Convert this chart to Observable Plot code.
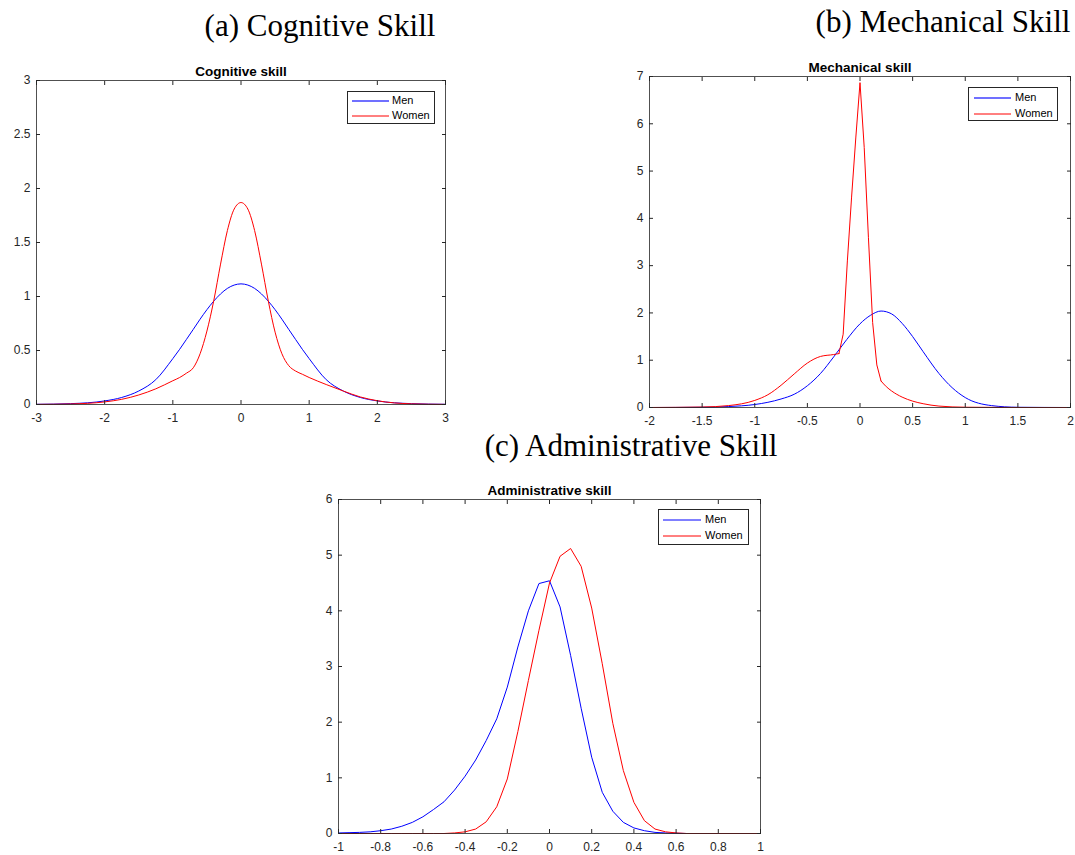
<!DOCTYPE html>
<html>
<head>
<meta charset="utf-8">
<script src="https://cdn.jsdelivr.net/npm/d3@7"></script>
<script src="https://cdn.jsdelivr.net/npm/@observablehq/plot@0.6"></script>
<style>
  body { margin: 0; background: #fff; }
  #page { position: relative; width: 1075px; height: 855px; overflow: hidden; }
  .cap { position: absolute; font-family: "Liberation Serif", serif; font-size: 31px; line-height: 1; color: #000; white-space: nowrap; transform: translateX(-50%); }
  .panel { position: absolute; }
  .legend { position: absolute; box-sizing: border-box; border: 1px solid #262626; background: #fff;
            font-family: "Liberation Sans", Arial, sans-serif; font-size: 11px; color: #000; }
  .legend svg { position: absolute; left: 0; top: 0; overflow: visible; }
  .legend .lb { position: absolute; line-height: 14px; white-space: nowrap; }
</style>
</head>
<body>
<div id="page">
  <div class="cap" style="left:320px; top:10px">(a) Cognitive Skill</div>
  <div class="cap" style="left:943px; top:6px">(b) Mechanical Skill</div>
  <div class="cap" style="left:631px; top:430px">(c) Administrative Skill</div>
  <div class="panel" id="pa" style="left:0px; top:55px"></div>
  <div class="panel" id="pb" style="left:615px; top:50px"></div>
  <div class="panel" id="pc" style="left:300px; top:475px"></div>
</div>
<script>
// series labels and colours
const seriesNames = ["Men", "Women"];
const seriesColors = ["#0000ff", "#ff0000"];

// (a) cognitive skill
const cogX = [-3, -2.5, -2, -1.75, -1.5, -1.25, -1, -0.9, -0.8, -0.7, -0.6, -0.5, -0.4, -0.3, -0.2, -0.1,
              0, 0.1, 0.2, 0.3, 0.4, 0.5, 0.6, 0.7, 0.8, 0.9, 1, 1.25, 1.5, 1.75, 2, 2.5, 3];
const cogMen = [0.002, 0.008, 0.033, 0.065, 0.125, 0.23, 0.425, 0.511, 0.603, 0.696, 0.79, 0.878, 0.957, 1.024, 1.075, 1.106,
                1.117, 1.106, 1.075, 1.024, 0.957, 0.878, 0.79, 0.696, 0.603, 0.511, 0.425, 0.23, 0.125, 0.065, 0.033, 0.008, 0.002];
const cogWomen = [0.001, 0.005, 0.024, 0.048, 0.088, 0.145, 0.22, 0.25, 0.29, 0.34, 0.47, 0.68, 0.96, 1.30, 1.61, 1.81,
                  1.87, 1.81, 1.61, 1.30, 0.96, 0.67, 0.47, 0.36, 0.31, 0.28, 0.25, 0.185, 0.125, 0.07, 0.035, 0.006, 0.001];
const cogXTicks = [-3, -2, -1, 0, 1, 2, 3];
const cogYTicks = [0, 0.5, 1, 1.5, 2, 2.5, 3];

// (b) mechanical skill
const mechMenX = [-2, -1.5, -1.25, -1, -0.875, -0.75, -0.625, -0.5, -0.375, -0.25, -0.125, 0, 0.1, 0.2, 0.3, 0.4,
                  0.5, 0.6, 0.75, 0.875, 1, 1.25, 1.5, 2];
const mechMen = [0, 0.005, 0.02, 0.063, 0.11, 0.18, 0.28, 0.46, 0.72, 1.07, 1.44, 1.77, 1.95, 2.04, 1.98, 1.78,
                 1.50, 1.18, 0.72, 0.42, 0.21, 0.04, 0.005, 0];
const mechWomenX = [-2, -1.5, -1.25, -1, -0.875, -0.75, -0.625, -0.5, -0.375, -0.25, -0.2, -0.16, -0.12, -0.08, -0.04,
                    0, 0.04, 0.08, 0.12, 0.16, 0.2, 0.25, 0.3, 0.4, 0.5, 0.6, 0.75, 1, 1.5, 2];
const mechWomen = [0, 0.01, 0.04, 0.15, 0.27, 0.47, 0.71, 0.94, 1.08, 1.12, 1.14, 1.55, 3.1, 4.45, 5.7,
                   6.87, 5.5, 3.6, 1.8, 0.9, 0.56, 0.44, 0.35, 0.22, 0.135, 0.08, 0.03, 0.006, 0, 0];
const mechSpike = [-0.2, 0.2]; // women's curve is drawn with straight segments inside this range
const mechXTicks = [-2, -1.5, -1, -0.5, 0, 0.5, 1, 1.5, 2];
const mechYTicks = [0, 1, 2, 3, 4, 5, 6, 7];

// (c) administrative skill
const admX = [-1, -0.95, -0.9, -0.85, -0.8, -0.75, -0.7, -0.65, -0.6, -0.55, -0.5, -0.45, -0.4, -0.35, -0.3, -0.25,
              -0.2, -0.15, -0.1, -0.05, 0, 0.05, 0.1, 0.15, 0.2, 0.25, 0.3, 0.35, 0.4, 0.45, 0.5, 0.55, 0.6,
              0.65, 0.7, 0.75, 0.8, 0.85, 0.9, 0.95, 1];
const admMen = [0.01, 0.015, 0.02, 0.03, 0.05, 0.08, 0.13, 0.2, 0.3, 0.43, 0.57, 0.78, 1.03, 1.32, 1.67, 2.06,
                2.63, 3.35, 4.0, 4.49, 4.54, 4.07, 3.2, 2.25, 1.37, 0.74, 0.4, 0.2, 0.1, 0.05, 0.02, 0.01, 0.005,
                0, 0, 0, 0, 0, 0, 0, 0];
const admWomen = [0, 0, 0, 0, 0, 0, 0, 0, 0, 0, 0, 0.01, 0.03, 0.08, 0.21, 0.48,
                  0.98, 1.83, 2.75, 3.65, 4.5, 4.98, 5.12, 4.8, 4.05, 3.05, 1.98, 1.13, 0.56, 0.23, 0.08, 0.03, 0.01,
                  0, 0, 0, 0, 0, 0, 0, 0];
const admXTicks = [-1, -0.8, -0.6, -0.4, -0.2, 0, 0.2, 0.4, 0.6, 0.8, 1];
const admYTicks = [0, 1, 2, 3, 4, 5, 6];

const fmt = d => String(d);
const blank = () => "";

function rows(xs, ys) {
  return xs.map((x, i) => ({x, y: ys[i]}));
}

function seriesMarks(data, color, curve, sharp) {
  if (!sharp) return [Plot.line(data, {x: "x", y: "y", stroke: color, strokeWidth: 1, curve})];
  // smooth tails, straight segments around the spike
  const [a, b] = sharp;
  return [
    Plot.line(data, {filter: d => d.x <= a, x: "x", y: "y", stroke: color, strokeWidth: 1, curve}),
    Plot.line(data, {filter: d => d.x >= a && d.x <= b, x: "x", y: "y", stroke: color, strokeWidth: 1, curve: "linear"}),
    Plot.line(data, {filter: d => d.x >= b, x: "x", y: "y", stroke: color, strokeWidth: 1, curve})
  ];
}

function panel(opts) {
  return Plot.plot({
    width: opts.width,
    height: opts.height,
    marginLeft: opts.ml,
    marginRight: opts.mr,
    marginTop: opts.mt,
    marginBottom: opts.mb,
    x: {domain: opts.xDomain},
    y: {domain: opts.yDomain},
    style: {
      fontFamily: "Liberation Sans, Arial, sans-serif",
      fontSize: "12px",
      color: "#262626",
      background: "transparent",
      overflow: "visible"
    },
    marks: [
      ...seriesMarks(rows(opts.menX, opts.men), seriesColors[0], opts.menCurve),
      ...seriesMarks(rows(opts.womenX, opts.women), seriesColors[1], opts.womenCurve, opts.womenSharp),
      Plot.frame({stroke: "#262626", strokeWidth: 0.8}),
      Plot.axisX({ticks: opts.xTicks, tickSize: -4, tickPadding: 13, tickFormat: fmt, label: null}),
      Plot.axisX({anchor: "top", ticks: opts.xTicks, tickSize: -4, tickFormat: blank, label: null}),
      Plot.axisY({ticks: opts.yTicks, tickSize: -4, tickPadding: 10, tickFormat: fmt, label: null}),
      Plot.axisY({anchor: "right", ticks: opts.yTicks, tickSize: -4, tickFormat: blank, label: null}),
      Plot.text([opts.title], {frameAnchor: "top", lineAnchor: "bottom", dy: -5, fontWeight: "bold", fontSize: 13.5, fill: "#000"})
    ]
  });
}

function legend(parent, box) {
  const lg = document.createElement("div");
  lg.className = "legend";
  lg.style.left = box.left + "px";
  lg.style.top = box.top + "px";
  lg.style.width = box.w + "px";
  lg.style.height = box.h + "px";
  let svg = `<svg width="${box.w}" height="${box.h}">`;
  seriesNames.forEach((name, i) => {
    const sw = i === 0 ? box.menWidth : 1;
    svg += `<line x1="${box.l0}" x2="${box.l1}" y1="${box.rows[i]}" y2="${box.rows[i]}" stroke="${seriesColors[i]}" stroke-width="${sw}" stroke-opacity="${i === 0 && sw > 1 ? 0.75 : 1}"/>`;
  });
  svg += "</svg>";
  lg.innerHTML = svg + seriesNames.map((name, i) =>
    `<div class="lb" style="left:${box.tx}px; top:${box.rows[i] - 8}px">${name}</div>`).join("");
  parent.appendChild(lg);
}

const page = document.getElementById("page");

document.getElementById("pa").append(panel({
  width: 460, height: 370, ml: 36, mr: 15, mt: 25, mb: 21,
  xDomain: [-3, 3], yDomain: [0, 3], xTicks: cogXTicks, yTicks: cogYTicks,
  menX: cogX, men: cogMen, womenX: cogX, women: cogWomen,
  menCurve: "monotone-x", womenCurve: "monotone-x",
  title: "Cognitive skill"
}));

document.getElementById("pb").append(panel({
  width: 460, height: 380, ml: 34, mr: 5, mt: 26, mb: 23,
  xDomain: [-2, 2], yDomain: [0, 7], xTicks: mechXTicks, yTicks: mechYTicks,
  menX: mechMenX, men: mechMen, womenX: mechWomenX, women: mechWomen,
  menCurve: "monotone-x", womenCurve: "monotone-x", womenSharp: mechSpike,
  title: "Mechanical skill"
}));

document.getElementById("pc").append(panel({
  width: 475, height: 380, ml: 38, mr: 15, mt: 24, mb: 22,
  xDomain: [-1, 1], yDomain: [0, 6], xTicks: admXTicks, yTicks: admYTicks,
  menX: admX, men: admMen, womenX: admX, women: admWomen,
  menCurve: "linear", womenCurve: "linear",
  title: "Administrative skill"
}));

legend(page, {left: 347, top: 91, w: 88, h: 33, rows: [9, 24], l0: 4, l1: 41, tx: 44, menWidth: 1.6});
legend(page, {left: 968, top: 87, w: 90, h: 34, rows: [10, 26], l0: 5, l1: 42, tx: 46, menWidth: 1.6});
legend(page, {left: 658, top: 509, w: 91, h: 36, rows: [10, 26], l0: 4, l1: 42, tx: 46, menWidth: 1});
</script>
</body>
</html>
